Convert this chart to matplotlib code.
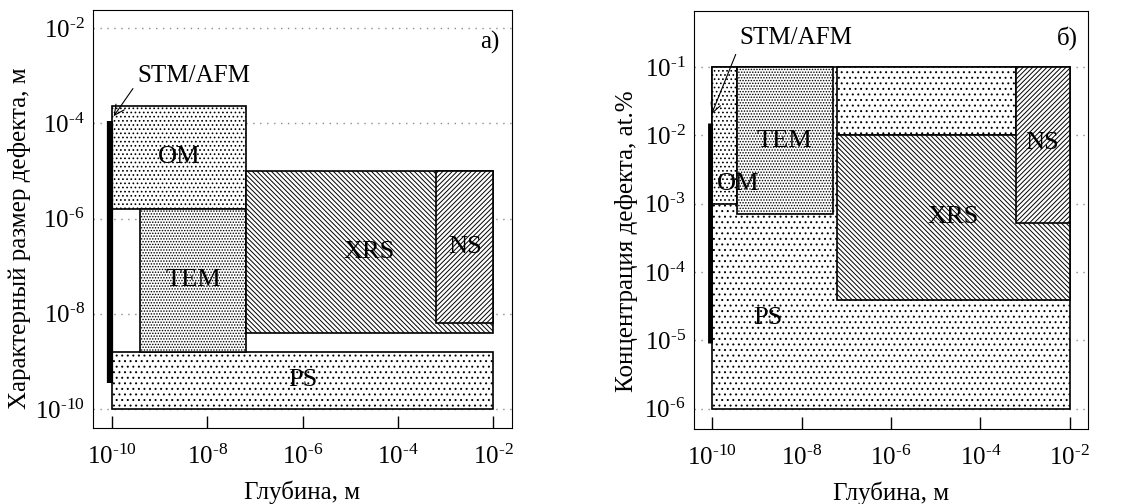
import matplotlib
matplotlib.use('Agg')
import matplotlib.pyplot as plt
from matplotlib.patches import Rectangle
import numpy as np

plt.rcParams['font.family'] = ['Liberation Serif', 'DejaVu Serif']
plt.rcParams['mathtext.fontset'] = 'custom'
plt.rcParams['mathtext.rm'] = 'Liberation Serif'
plt.rcParams['mathtext.it'] = 'Liberation Serif:italic'
plt.rcParams['hatch.linewidth'] = 0.7
plt.rcParams['font.size'] = 18

# ---------------- panel a) : size vs depth ----------------
names_a = ['PS', 'OM', 'TEM', 'XRS', 'NS']
x0_a = [1e-10, 1e-10, 3.9e-10, 6.5e-8, 6.5e-4]
x1_a = [1e-2, 6.5e-8, 6.5e-8, 1e-2, 1e-2]
y0_a = [1e-10, 1.6e-6, 1.6e-9, 4e-9, 6.3e-9]
y1_a = [1.6e-9, 2.3e-4, 1.6e-6, 1e-5, 1e-5]
stm_a = [9e-11, 3.5e-10, 1.1e-4]   # x, y from, y to
yticks_a = [1e-10, 1e-8, 1e-6, 1e-4, 1e-2]

# ---------------- panel б) : concentration vs depth ----------------
names_b = ['PS', '', 'OM', 'TEM', 'XRS', 'NS']
x0_b = [1e-10, 6.3e-8, 1e-10, 3.6e-10, 6.3e-8, 6.3e-4]
x1_b = [1e-2, 6.3e-4, 3.6e-10, 5e-8, 1e-2, 1e-2]
y0_b = [1e-6, 1e-2, 1e-3, 7e-4, 3.9e-5, 5.2e-4]
y1_b = [1e-1, 1e-1, 1e-1, 1e-1, 1e-2, 1e-1]
lab_x_b = [10**-8.76, None, 10**-9.43, 10**-8.38, 10**-4.62, 10**-2.61]
lab_y_b = [10**-4.68, None, 10**-2.72, 10**-2.08, 10**-3.2, 10**-2.12]
stm_b = [9e-11, 9e-6, 1.5e-2]
yticks_b = [1e-6, 1e-5, 1e-4, 1e-3, 1e-2, 1e-1]

xticks = [1e-10, 1e-8, 1e-6, 1e-4, 1e-2]
hatch = {'PS': '...', '': '...', 'OM': '....', 'TEM': '......',
         'XRS': '\\' * 7, 'NS': '/' * 7}

fig = plt.figure(figsize=(11.36, 5.04), dpi=100)
ax1 = fig.add_axes([0.0819, 0.1508, 0.3688, 0.8294])
ax2 = fig.add_axes([0.6109, 0.1488, 0.3468, 0.8294])


def sup(v):
    # hyphen instead of the long math minus, as in the original
    return r'$\mathregular{10^{‐%d}}$' % int(round(-np.log10(v)))


for ax in [ax1, ax2]:
    ax.set_xscale('log')
    ax.set_yscale('log')
    ax.set_axisbelow(True)
    ax.yaxis.grid(True, linestyle=(0, (1, 4)), color='0.55', lw=1.0)
    ax.tick_params(axis='x', which='major', direction='in', length=9, width=1, pad=12)
    ax.tick_params(axis='y', which='major', length=0, pad=6)
    ax.tick_params(which='minor', length=0)
    ax.set_xticks(xticks)
    ax.set_xticklabels([sup(v) for v in xticks])
    ax.minorticks_off()
    ax.set_xlabel('Глубина, м', labelpad=8)

# panel a
for n, a, b, c, d in zip(names_a, x0_a, x1_a, y0_a, y1_a):
    ax1.add_patch(Rectangle((a, c), b - a, d - c, facecolor='white', edgecolor='black',
                            hatch=hatch[n], lw=1.2, zorder=2))
    ax1.text(np.sqrt(a * b), np.sqrt(c * d), n, ha='center', va='center', fontsize=19, zorder=4)
ax1.plot([stm_a[0], stm_a[0]], [stm_a[1], stm_a[2]], color='black', lw=4.5,
         solid_capstyle='butt', zorder=3)
ax1.annotate('STM/AFM', xy=(1.0e-10, 10**-3.9), xytext=(10**-9.47, 1e-3),
             ha='left', va='center', fontsize=18,
             arrowprops=dict(arrowstyle='->', lw=0.8, color='black', relpos=(0, 0.2)))
ax1.set_xlim(10**-10.4, 10**-1.6)
ax1.set_ylim(10**-10.4, 10**-1.62)
ax1.set_yticks(yticks_a)
ax1.set_yticklabels([sup(v) for v in yticks_a])
ax1.set_ylabel('Характерный размер дефекта, м')
ax1.yaxis.set_label_coords(-0.148, 0.453)
ax1.text(0.971, 0.923, 'а)', transform=ax1.transAxes, ha='right', va='center', fontsize=18)

# panel b
for n, a, b, c, d, tx, ty in zip(names_b, x0_b, x1_b, y0_b, y1_b, lab_x_b, lab_y_b):
    ax2.add_patch(Rectangle((a, c), b - a, d - c, facecolor='white', edgecolor='black',
                            hatch=hatch[n], lw=1.2, zorder=2))
    if n:
        ax2.text(tx, ty, n, ha='center', va='center', fontsize=19, zorder=4)
ax2.plot([stm_b[0], stm_b[0]], [stm_b[1], stm_b[2]], color='black', lw=3.5,
         solid_capstyle='butt', zorder=3)
ax2.annotate('STM/AFM', xy=(10**-10.04, 10**-1.73), xytext=(10**-9.39, 10**-0.58),
             ha='left', va='center', fontsize=18,
             arrowprops=dict(arrowstyle='->', lw=0.8, color='black', relpos=(0, 0.2)))
ax2.set_xlim(10**-10.41, 10**-1.59)
ax2.set_ylim(10**-6.3, 10**-0.18)
ax2.set_yticks(yticks_b)
ax2.set_yticklabels([sup(v) for v in yticks_b])
ax2.set_ylabel('Концентрация дефекта, at.%')
ax2.yaxis.set_label_coords(-0.142, 0.450)
ax2.text(0.975, 0.935, 'б)', transform=ax2.transAxes, ha='right', va='center', fontsize=18)

fig.savefig('out.png', dpi=100)
